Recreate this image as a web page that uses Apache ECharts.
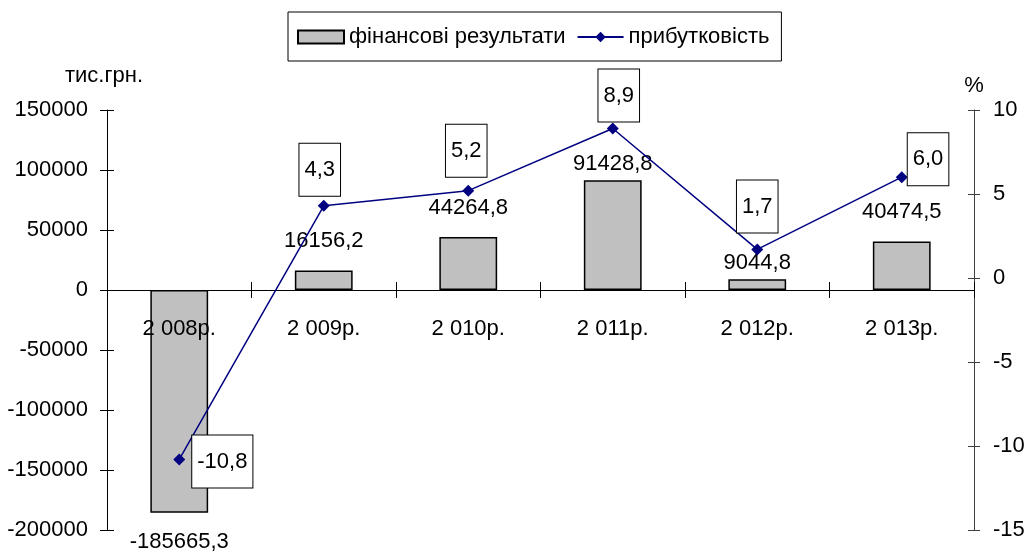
<!DOCTYPE html>
<html>
<head>
<meta charset="utf-8">
<script src="https://cdn.jsdelivr.net/npm/echarts@6/dist/echarts.min.js"></script>
<style>
html,body{margin:0;padding:0;background:#fff}
#chart{width:1029px;height:554px}
</style>
</head>
<body>
<div id="chart"></div>
<script>
// дані
var years = ['2 008р.', '2 009р.', '2 010р.', '2 011р.', '2 012р.', '2 013р.'];
var results = [-185665.3, 16156.2, 44264.8, 91428.8, 9044.8, 40474.5];
var profit = [-10.8, 4.3, 5.2, 8.9, 1.7, 6.0];

// розташування підписів
var barLabelGap = [18, 19, 18, 5, 5, 18];
var profitLabelPos = [
  {position: 'right', distance: 7, offset: [0, 2]},
  {position: 'top', distance: 4, offset: [-4, 0]},
  {position: 'top', distance: 8, offset: [-2, 0]},
  {position: 'top', distance: 1, offset: [6, 0]},
  {position: 'top', distance: 11, offset: [0, 0]},
  {position: 'right', distance: 0, offset: [0, -18]}
];

var font = "'Liberation Sans', Arial, sans-serif";
var fs = 22;
var fmt = function (v) { return v.toFixed(1).replace('.', ','); };

var chart = echarts.init(document.getElementById('chart'));
var option = {
  animation: false,
  textStyle: {fontFamily: font, color: '#000'},
  legend: {
    left: 288, top: 12,
    padding: [14, 12, 13, 9],
    itemGap: 11, itemWidth: 46, itemHeight: 13,
    borderColor: '#000', borderWidth: 1,
    textStyle: {fontFamily: font, fontSize: fs, color: '#000'},
    data: [{name: 'фінансові результати', icon: 'rect'}, {name: 'прибутковість'}]
  },
  grid: {left: 107, right: 55, top: 110, bottom: 24, containLabel: false, outerBoundsMode: 'none'},
  xAxis: [{
    type: 'category', data: years, position: 'bottom', offset: -240, z: 3,
    axisLine: {onZero: false, lineStyle: {color: '#000', width: 1}},
    axisTick: {show: true, inside: false, length: 8, lineStyle: {color: '#000'}},
    axisLabel: {fontFamily: font, fontSize: fs, color: '#000', margin: 28}
  }, {
    type: 'category', data: years, position: 'bottom', offset: -240, z: 3,
    axisLine: {onZero: false, lineStyle: {color: '#000', width: 1}},
    axisTick: {show: true, inside: true, length: 8, lineStyle: {color: '#000'}},
    axisLabel: {show: false}
  }],
  yAxis: [{
    type: 'value', position: 'left', min: -200000, max: 150000, interval: 50000,
    name: 'тис.грн.', nameLocation: 'end', nameGap: 23,
    nameTextStyle: {fontFamily: font, fontSize: fs, color: '#000', padding: [0, 6, 0, 0]},
    axisLine: {show: true, onZero: false, lineStyle: {color: '#000'}},
    axisTick: {show: true, length: 7, lineStyle: {color: '#000'}},
    axisLabel: {fontFamily: font, fontSize: fs, color: '#000', margin: 19,
      formatter: function (v) { return String(v); }},
    splitLine: {show: false}
  }, {
    type: 'value', position: 'right', min: -15, max: 10, interval: 5,
    name: '%', nameLocation: 'end', nameGap: 13,
    nameTextStyle: {fontFamily: font, fontSize: fs, color: '#000'},
    axisLine: {show: true, onZero: false, lineStyle: {color: '#404040'}},
    axisTick: {show: true, length: 6, lineStyle: {color: '#404040'}},
    axisLabel: {fontFamily: font, fontSize: fs, color: '#000', margin: 19,
      formatter: function (v) { return String(v); }},
    splitLine: {show: false}
  }, {
    type: 'value', position: 'left', min: -200000, max: 150000, interval: 50000,
    axisLine: {show: false, onZero: false},
    axisTick: {show: true, inside: true, length: 7, lineStyle: {color: '#000'}},
    axisLabel: {show: false}, splitLine: {show: false}
  }, {
    type: 'value', position: 'right', min: -15, max: 10, interval: 5,
    axisLine: {show: false, onZero: false},
    axisTick: {show: true, inside: true, length: 6, lineStyle: {color: '#404040'}},
    axisLabel: {show: false}, splitLine: {show: false}
  }],
  series: [{
    name: 'фінансові результати',
    type: 'bar',
    xAxisIndex: 0, yAxisIndex: 0,
    barWidth: '40%',
    itemStyle: {color: '#c0c0c0', borderColor: '#000', borderWidth: 1.5},
    label: {
      show: true, position: 'outside',
      fontFamily: font, fontSize: fs, color: '#000',
      formatter: function (p) { return fmt(p.value); }
    },
    data: results.map(function (v, i) {
      return {value: v, label: {distance: barLabelGap[i]}};
    }),
    z: 2
  }, {
    name: 'прибутковість',
    type: 'line',
    xAxisIndex: 0, yAxisIndex: 1,
    symbol: 'diamond', symbolSize: 12,
    lineStyle: {color: '#000080', width: 1.5},
    itemStyle: {color: '#000080'},
    label: {
      show: true,
      fontFamily: font, fontSize: fs, color: '#000', lineHeight: 22,
      backgroundColor: '#fff', borderColor: '#000', borderWidth: 1,
      padding: [15, 5, 15, 5],
      formatter: function (p) { return fmt(p.value); }
    },
    data: profit.map(function (v, i) {
      return {value: v, label: profitLabelPos[i]};
    }),
    z: 4
  }]
};
chart.setOption(option);
</script>
</body>
</html>
